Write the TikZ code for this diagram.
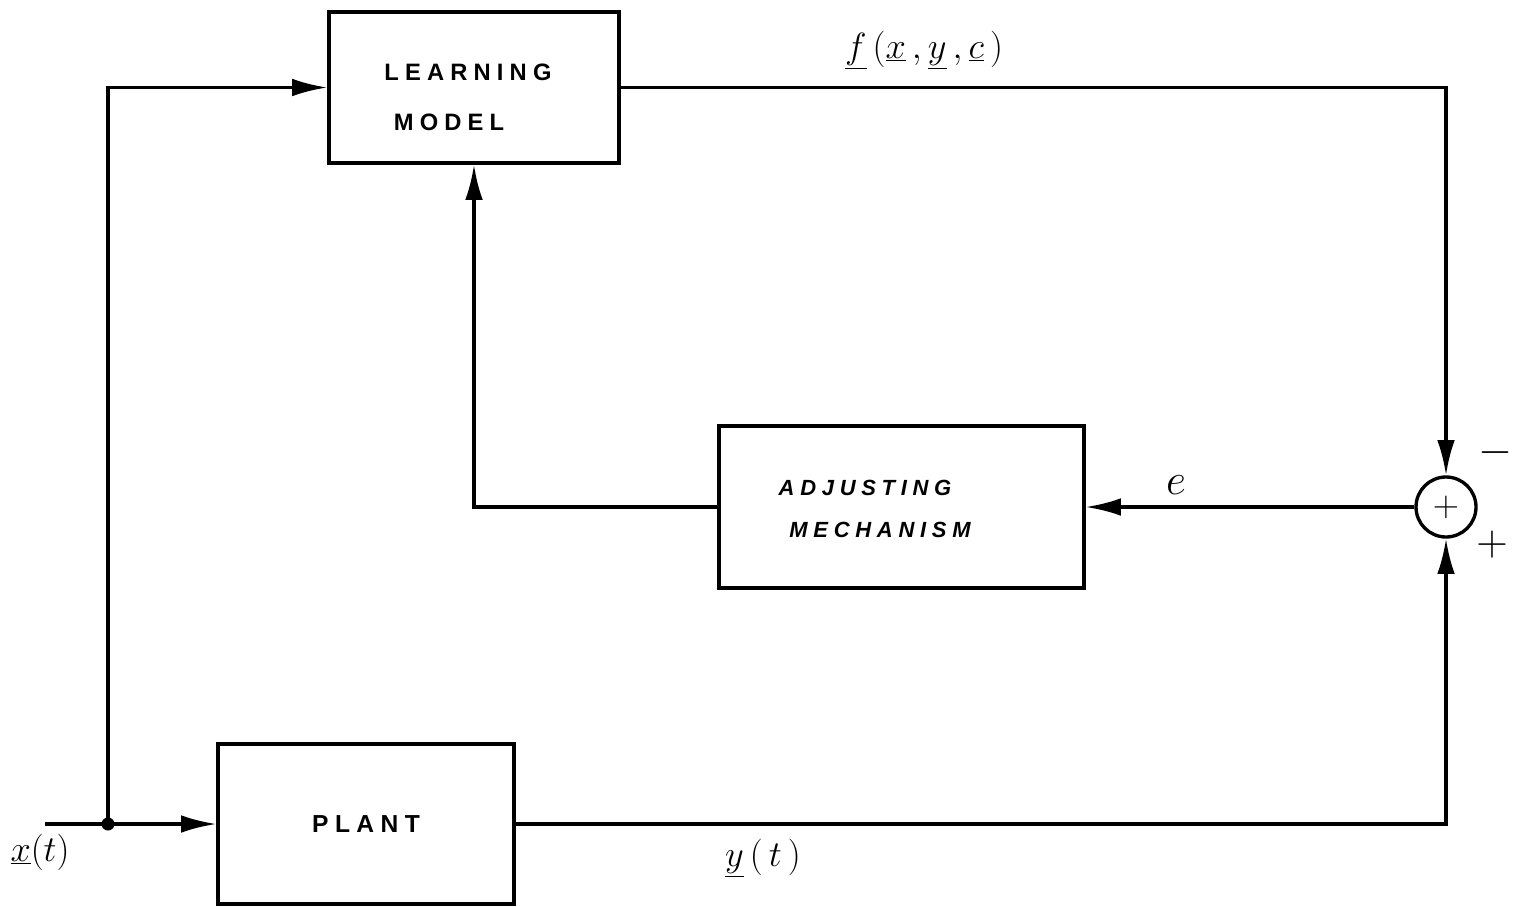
\documentclass[tikz,border=0pt]{standalone}
\usepackage{fontspec}
\setmainfont{Liberation Sans}
\newfontfamily\hand[LetterSpace=26]{Liberation Sans}
\usetikzlibrary{arrows.meta}
\tikzset{
  blk/.style={draw, line width=1.9pt, rectangle, inner sep=0pt},
  lbl/.style={font=\hand\bfseries\fontsize{13.5}{15}\selectfont, inner sep=0pt},
  ilbl/.style={font=\hand\bfseries\itshape\fontsize{12.5}{14}\selectfont, inner sep=0pt},
  sig/.style={font=\fontsize{21}{23}\selectfont, inner sep=0pt},
  wire/.style={line width=1.9pt},
  arr/.style={wire, -{Latex[length=20pt,width=10pt]}},
}
\begin{document}
\begin{tikzpicture}[x=0.02cm,y=-0.02cm]
\useasboundingbox (0,0) rectangle (1520,906);
% blocks
\node[blk, minimum width=5.8cm, minimum height=3.02cm] (lm) at (474,87.5) {};
\node[blk, minimum width=7.3cm, minimum height=3.24cm] (adj) at (901.5,507) {};
\node[blk, minimum width=5.92cm, minimum height=3.2cm, font=\hand\bfseries\fontsize{14}{16}\selectfont] (plant) at (366,824) {PLANT};
\node[draw, circle, line width=1.9pt, minimum size=1.2cm, inner sep=0pt, font=\fontsize{20}{22}\selectfont] (sum) at (1446,507) {$+$};
% block texts
\node[lbl] (t1) at (468,72) {LEARNING};
\node[lbl] (t2) at (449,122) {MODEL};
\node[ilbl] (t3) at (865,488) {ADJUSTING};
\node[ilbl] (t4) at (880,530) {MECHANISM};
% signals
\coordinate (in) at (45,824);
\coordinate (j) at (108,824);
\draw[wire] (in) -- (j);
\fill (j) circle[radius=0.13cm];
\draw[arr] (j) -- (plant.west);
\draw[arr] (j) |- (lm.west);
\draw[arr] (lm.east) -| (sum.north);
\draw[arr] (plant.east) -| (sum.south);
\draw[arr] (sum.west) -- (adj.east);
\draw[arr] (adj.west) -| (lm.south);
% labels
\node[sig, font=\fontsize{22}{24}\selectfont] (lf) at (924,50) {$\underline{f}\,(\underline{x}\,,\underline{y}\,,\underline{c}\,)$};
\node[sig, font=\fontsize{24}{26}\selectfont] (le) at (1176,485) {$e$};
\node[sig] (ly) at (763,858) {$\underline{y}\,(\,t\,)$};
\node[sig] (lx) at (40,852) {$\underline{x}(t)$};
\node[sig, font=\fontsize{26}{28}\selectfont] (lminus) at (1495,453) {$-$};
\node[sig, font=\fontsize{26}{28}\selectfont] (lplus) at (1492,545) {$+$};
\end{tikzpicture}
\end{document}
